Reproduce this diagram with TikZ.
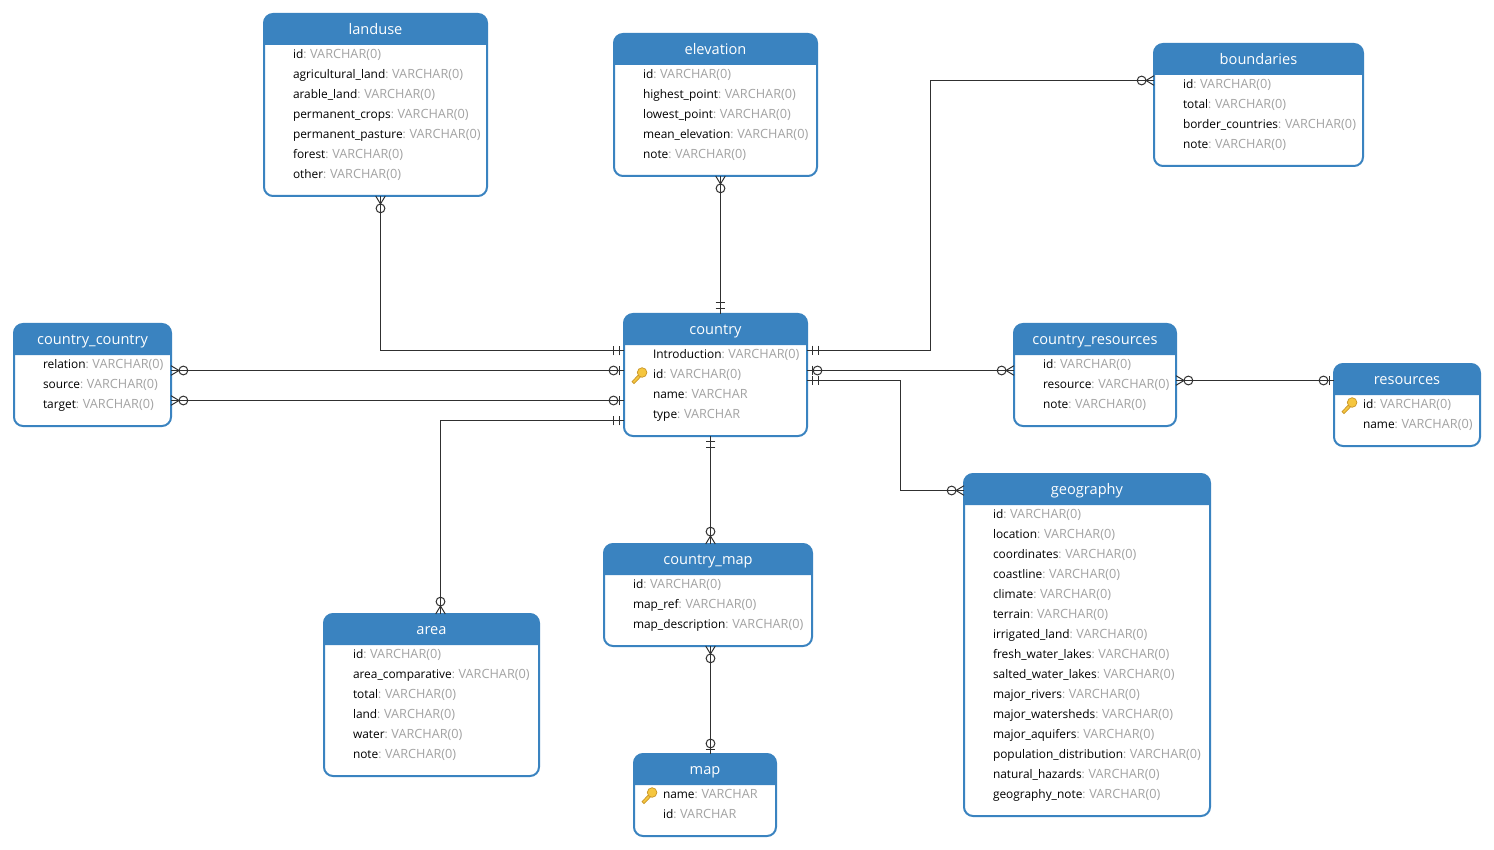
\documentclass[tikz,border=0pt]{standalone}
\usepackage{fontspec}
\setmainfont{Open Sans}
\usetikzlibrary{calc}
\catcode`\_=12
\definecolor{hdr}{HTML}{3A83C0}
\definecolor{typ}{HTML}{A3A3A3}
\definecolor{lnk}{HTML}{303030}
\definecolor{keyf}{HTML}{F5C63F}
\definecolor{keyd}{HTML}{C9962A}
\tikzset{
  x=1pt,y=-1pt,
  box/.style={draw=hdr,line width=2pt,rounded corners=9pt,fill=white,anchor=north west,inner sep=0pt,outer sep=0pt},
  ttl/.style={text=white,font=\fontsize{14.6}{16}\selectfont,inner sep=0pt,text height=10pt,text depth=3.5pt},
  row/.style={anchor=west,inner sep=0pt,outer sep=0pt,text height=9.5pt,text depth=3pt,font=\fontsize{11.9}{14}\selectfont},
  link/.style={draw=lnk,line width=1pt},
  mk/.style={draw=lnk,line width=1pt},
  oneone/.pic={\draw[mk] (5,-4.8)--(5,4.8) (11,-4.8)--(11,4.8);},
  zeroone/.pic={\draw[mk] (5,-4.8)--(5,4.8); \draw[mk] (10.5,0) circle (4.4);},
  zeromany/.pic={\draw[mk] (0,-4.8)--(8,0)--(0,4.8); \draw[mk] (12.4,0) circle (4.4);},
  keyicon/.pic={
    \fill[keyf,draw=keyd,line width=0.7pt] (-7.5,6.2) -- (0,-1.8) -- (2,0.4) -- (-5.5,8.2) -- cycle;
    \fill[keyf,draw=keyd,line width=0.7pt] (2.6,-3) circle (4.8);
  }
}
\newcommand{\entity}[7]{%
  \node[box,minimum width=#4pt,minimum height=#5pt] (#1) at (#2,#3) {};
  \fill[hdr] (#2,#3+31) [rounded corners=9pt] -- (#2,#3) -- (#2+#4,#3) [sharp corners] -- (#2+#4,#3+31) -- cycle;
  \node[ttl] (#1-title) at (#2+#4/2,#3+17.4) {#6};
  \foreach \f/\t [count=\i from 0] in {#7}{
    \node[row] (#1-r\i) at (#2+29,#3+40.8+20*\i) {\f\textcolor{typ}{:\hspace{3.7pt}\fontsize{12.7}{14}\selectfont\t}};
  }
}
\newcommand{\keyat}[2]{\path ([xshift=15.5pt,yshift={-(41.5+20*#2)*1pt}]#1.north west) pic {keyicon};}
\begin{document}
\begin{tikzpicture}
\useasboundingbox[fill=white] (0,0) rectangle (1494,850);
\entity{landuse}{264}{14}{223}{182}{landuse}{id/VARCHAR(0),agricultural_land/VARCHAR(0),arable_land/VARCHAR(0),permanent_crops/VARCHAR(0),permanent_pasture/VARCHAR(0),forest/VARCHAR(0),other/VARCHAR(0)}
\entity{elevation}{614}{34}{203}{142}{elevation}{id/VARCHAR(0),highest_point/VARCHAR(0),lowest_point/VARCHAR(0),mean_elevation/VARCHAR(0),note/VARCHAR(0)}
\entity{boundaries}{1154}{44}{209}{122}{boundaries}{id/VARCHAR(0),total/VARCHAR(0),border_countries/VARCHAR(0),note/VARCHAR(0)}
\entity{countrycountry}{14}{324}{157}{102}{country_country}{relation/VARCHAR(0),source/VARCHAR(0),target/VARCHAR(0)}
\entity{country}{624}{314}{183}{122}{country}{Introduction/VARCHAR(0),id/VARCHAR(0),name/VARCHAR,type/VARCHAR}
\entity{countryresources}{1014}{324}{162}{102}{country_resources}{id/VARCHAR(0),resource/VARCHAR(0),note/VARCHAR(0)}
\entity{resources}{1334}{364}{146}{82}{resources}{id/VARCHAR(0),name/VARCHAR(0)}
\entity{geography}{964}{474}{246}{342}{geography}{id/VARCHAR(0),location/VARCHAR(0),coordinates/VARCHAR(0),coastline/VARCHAR(0),climate/VARCHAR(0),terrain/VARCHAR(0),irrigated_land/VARCHAR(0),fresh_water_lakes/VARCHAR(0),salted_water_lakes/VARCHAR(0),major_rivers/VARCHAR(0),major_watersheds/VARCHAR(0),major_aquifers/VARCHAR(0),population_distribution/VARCHAR(0),natural_hazards/VARCHAR(0),geography_note/VARCHAR(0)}
\entity{countrymap}{604}{544}{208}{102}{country_map}{id/VARCHAR(0),map_ref/VARCHAR(0),map_description/VARCHAR(0)}
\entity{area}{324}{614}{215}{162}{area}{id/VARCHAR(0),area_comparative/VARCHAR(0),total/VARCHAR(0),land/VARCHAR(0),water/VARCHAR(0),note/VARCHAR(0)}
\entity{map}{634}{754}{142}{82}{map}{name/VARCHAR,id/VARCHAR}
\keyat{country}{1}
\keyat{resources}{0}
\keyat{map}{0}
% connectors
\coordinate (a1) at ([xshift=116.5pt]landuse.south west);
\coordinate (a2) at ([yshift=-36.5pt]country.north west);
\draw[link] (a1) -- (a1 |- a2) -- (a2);
\path (a1) pic[rotate=-90] {zeromany};
\path (a2) pic[rotate=180] {oneone};
\coordinate (b1) at ([xshift=106.5pt]elevation.south west);
\coordinate (b2) at ([xshift=96.5pt]country.north west);
\draw[link] (b1) -- (b2);
\path (b1) pic[rotate=-90] {zeromany};
\path (b2) pic[rotate=90] {oneone};
\coordinate (c1) at ([yshift=-36.5pt]boundaries.north west);
\coordinate (c2) at ([yshift=-36.5pt]country.north east);
\coordinate (c3) at (930.5,0);
\draw[link] (c1) -- (c1 -| c3) -- (c2 -| c3) -- (c2);
\path (c1) pic[rotate=180] {zeromany};
\path (c2) pic {oneone};
\coordinate (d1) at ([yshift=-46.5pt]countrycountry.north east);
\coordinate (d2) at ([yshift=-56.5pt]country.north west);
\draw[link] (d1) -- (d2);
\path (d1) pic {zeromany};
\path (d2) pic[rotate=180] {zeroone};
\coordinate (e1) at ([yshift=-76.5pt]countrycountry.north east);
\coordinate (e2) at ([yshift=-86.5pt]country.north west);
\draw[link] (e1) -- (e2);
\path (e1) pic {zeromany};
\path (e2) pic[rotate=180] {zeroone};
\coordinate (f1) at ([xshift=116.5pt]area.north west);
\coordinate (f2) at ([yshift=-106.5pt]country.north west);
\draw[link] (f1) -- (f1 |- f2) -- (f2);
\path (f1) pic[rotate=90] {zeromany};
\path (f2) pic[rotate=180] {oneone};
\coordinate (g1) at ([xshift=106.5pt]countrymap.north west);
\coordinate (g2) at ([xshift=86.5pt]country.south west);
\draw[link] (g1) -- (g2);
\path (g1) pic[rotate=90] {zeromany};
\path (g2) pic[rotate=-90] {oneone};
\coordinate (h1) at ([xshift=106.5pt]countrymap.south west);
\coordinate (h2) at ([xshift=76.5pt]map.north west);
\draw[link] (h1) -- (h2);
\path (h1) pic[rotate=-90] {zeromany};
\path (h2) pic[rotate=90] {zeroone};
\coordinate (i1) at ([yshift=-56.5pt]country.north east);
\coordinate (i2) at ([yshift=-46.5pt]countryresources.north west);
\draw[link] (i1) -- (i2);
\path (i1) pic {zeroone};
\path (i2) pic[rotate=180] {zeromany};
\coordinate (j1) at ([yshift=-56.5pt]countryresources.north east);
\coordinate (j2) at ([yshift=-16.5pt]resources.north west);
\draw[link] (j1) -- (j2);
\path (j1) pic {zeromany};
\path (j2) pic[rotate=180] {zeroone};
\coordinate (k1) at ([yshift=-66.5pt]country.north east);
\coordinate (k2) at ([yshift=-16.5pt]geography.north west);
\coordinate (k3) at (900.5,0);
\draw[link] (k1) -- (k1 -| k3) -- (k2 -| k3) -- (k2);
\path (k1) pic {oneone};
\path (k2) pic[rotate=180] {zeromany};
\end{tikzpicture}
\end{document}
